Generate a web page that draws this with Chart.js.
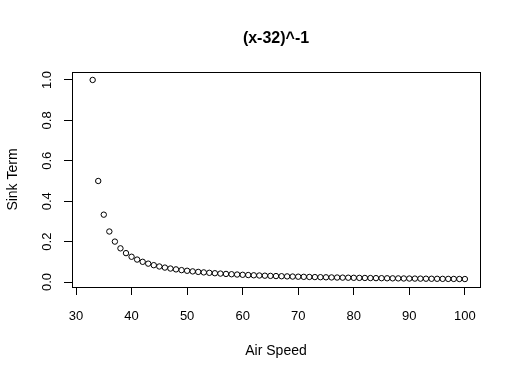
<!DOCTYPE html>
<html>
<head>
<meta charset="utf-8">
<script src="https://cdn.jsdelivr.net/npm/chart.js@4/dist/chart.umd.min.js"></script>
<style>
  html, body { margin: 0; padding: 0; background: #fff; }
  #wrap { width: 516px; height: 375px; }
</style>
</head>
<body>
<div id="wrap"><canvas id="c" width="516" height="375"></canvas></div>
<script>
const chartTitle = "(x-32)^-1";
const xTitle = "Air Speed";
const yTitle = "Sink Term";
const airSpeed = [33,34,35,36,37,38,39,40,41,42,43,44,45,46,47,48,49,50,51,52,53,54,55,56,57,58,59,60,61,62,63,64,65,66,67,68,69,70,71,72,73,74,75,76,77,78,79,80,81,82,83,84,85,86,87,88,89,90,91,92,93,94,95,96,97,98,99,100];
const sinkTerm = [1.0,0.5,0.3333,0.25,0.2,0.1667,0.1429,0.125,0.1111,0.1,0.0909,0.0833,0.0769,0.0714,0.0667,0.0625,0.0588,0.0556,0.0526,0.05,0.0476,0.0455,0.0435,0.0417,0.04,0.0385,0.037,0.0357,0.0345,0.0333,0.0323,0.0313,0.0303,0.0294,0.0286,0.0278,0.027,0.0263,0.0256,0.025,0.0244,0.0238,0.0233,0.0227,0.0222,0.0217,0.0213,0.0208,0.0204,0.02,0.0196,0.0192,0.0189,0.0185,0.0182,0.0179,0.0175,0.0172,0.0169,0.0167,0.0164,0.0161,0.0159,0.0156,0.0154,0.0152,0.0149,0.0147];
const xTicks = [30,40,50,60,70,80,90,100];
const yTicks = [0.0,0.2,0.4,0.6,0.8,1.0];

const FONT = '"Liberation Sans", Arial, sans-serif';

const bgPlugin = {
  id: 'bg',
  beforeDraw(chart) {
    const ctx = chart.ctx;
    ctx.save();
    ctx.fillStyle = '#fff';
    ctx.fillRect(0, 0, chart.width, chart.height);
    ctx.restore();
  }
};
const framePlugin = {
  id: 'frame',
  afterDraw(chart) {
    const a = chart.chartArea;
    const ctx = chart.ctx;
    ctx.save();
    ctx.strokeStyle = '#000';
    ctx.lineWidth = 1;
    ctx.strokeRect(Math.round(a.left) + 0.5, Math.round(a.top) + 0.5,
                   Math.round(a.right - a.left), Math.round(a.bottom - a.top));
    ctx.font = 'bold 16px ' + FONT;
    ctx.fillStyle = '#000';
    ctx.textAlign = 'center';
    ctx.textBaseline = 'middle';
    ctx.fillText(chartTitle, (a.left + a.right) / 2, 39);
    ctx.restore();
  }
};

const data = airSpeed.map((x, i) => ({ x: x, y: sinkTerm[i] }));

new Chart(document.getElementById('c'), {
  type: 'scatter',
  data: {
    datasets: [{
      data: data,
      pointStyle: 'circle',
      pointRadius: 2.7,
      pointBorderWidth: 1,
      pointBorderColor: '#000',
      pointBackgroundColor: 'rgba(0,0,0,0)',
      showLine: false
    }]
  },
  options: {
    responsive: false,
    animation: false,
    devicePixelRatio: 1,
    layout: { padding: { top: 72, right: 36, bottom: 0, left: 0 } },
    plugins: {
      legend: { display: false },
      tooltip: { enabled: false },
      title: { display: false }
    },
    scales: {
      x: {
        type: 'linear',
        min: 29.28,
        max: 102.72,
        afterBuildTicks(s) { s.ticks = xTicks.map(v => ({ value: v })); },
        afterFit(s) { s.height = 88; },
        grid: { display: true, drawOnChartArea: false, drawTicks: true, tickLength: 8, color: '#000', tickColor: '#000', lineWidth: 1 },
        border: { display: true, color: '#000', width: 1 },
        ticks: { color: '#000', font: { family: FONT, size: 13 }, padding: 14, maxRotation: 0, autoSkip: false },
        title: { display: true, text: xTitle, color: '#000', font: { family: FONT, size: 14 }, padding: { top: 0, bottom: 15 } }
      },
      y: {
        type: 'linear',
        min: -0.0247,
        max: 1.0394,
        afterBuildTicks(s) { s.ticks = yTicks.map(v => ({ value: v })); },
        afterFit(s) { s.width = 72; },
        grid: { display: true, drawOnChartArea: false, drawTicks: true, tickLength: 8, color: '#000', tickColor: '#000', lineWidth: 1 },
        border: { display: true, color: '#000', width: 1 },
        ticks: { color: '#000', font: { family: FONT, size: 13 }, padding: 8, minRotation: 90, maxRotation: 90, crossAlign: 'center', autoSkip: false,
                 callback: v => Number(v).toFixed(1) },
        title: { display: true, text: yTitle, color: '#000', font: { family: FONT, size: 14 }, padding: { top: 5, bottom: 0 } }
      }
    }
  },
  plugins: [bgPlugin, framePlugin]
});
</script>
</body>
</html>
